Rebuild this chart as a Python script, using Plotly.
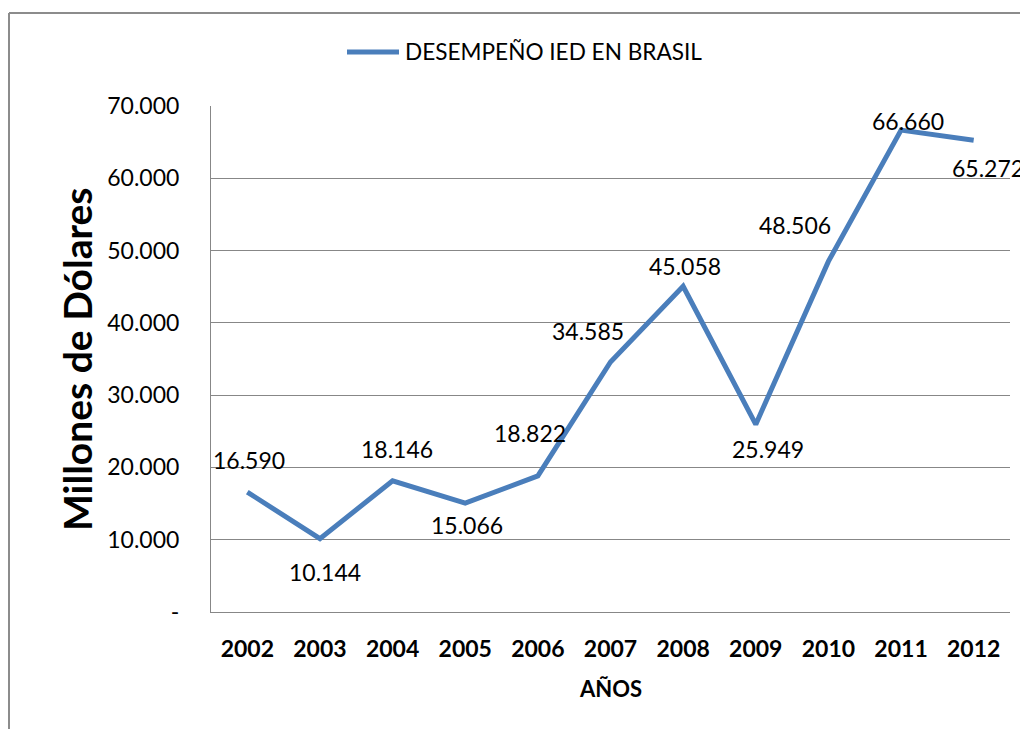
import plotly.graph_objects as go

years = ["2002", "2003", "2004", "2005", "2006", "2007", "2008", "2009", "2010", "2011", "2012"]
ied = [16590, 10144, 18146, 15066, 18822, 34585, 45058, 25949, 48506, 66660, 65272]
y_ticks = [0, 10000, 20000, 30000, 40000, 50000, 60000, 70000]
y_tick_labels = ["-", "10.000", "20.000", "30.000", "40.000", "50.000", "60.000", "70.000"]
series_name = "DESEMPEÑO IED EN BRASIL"

# label offsets (pixels) for each data label
label_dx = [2, 5, 4, 2, -8, -23, 2, 12, -33, 7, 14]
label_dy = [32, -33, 32, -22, 43, 31, 20, -25, 36, 9, -28]

FONT = "Lato, 'Open Sans', sans-serif"
BLUE = "#4A7EBB"
GRID = "#878787"

# the page body adds an 8px margin; work in screen pixels and shift
OFF = 8
W, H = 1028 - OFF, 729 - OFF
L, R, T, B = 211 - OFF, 1010 - OFF, 106 - OFF, 612 - OFF
pw, ph = R - L, B - T

def px(x):
    return (x - OFF - L) / pw

def py(y):
    return (B - (y - OFF)) / ph

fig = go.Figure()
fig.add_trace(go.Scatter(
    x=years, y=ied, mode="lines", name=series_name, showlegend=False,
    line=dict(color=BLUE, width=5),
))

def fmt(v):
    return f"{v:,}".replace(",", ".")

for i, v in enumerate(ied):
    fig.add_annotation(x=i, y=v, xref="x", yref="y", text=fmt(v), showarrow=False,
                       xanchor="center", yanchor="middle",
                       xshift=label_dx[i], yshift=label_dy[i],
                       font=dict(family=FONT, size=23, color="#000"))

# outer chart border (left and top visible)
fig.add_shape(type="line", xref="paper", yref="paper", x0=px(9), x1=px(9), y0=py(13), y1=py(760),
              line=dict(color="#8C8C8C", width=2))
fig.add_shape(type="line", xref="paper", yref="paper", x0=px(9), x1=px(1060), y0=py(13), y1=py(13),
              line=dict(color="#8C8C8C", width=2))

# legend (drawn manually to match the long line sample)
fig.add_shape(type="line", xref="paper", yref="paper", x0=px(347), x1=px(399), y0=py(52), y1=py(52),
              line=dict(color=BLUE, width=5))
fig.add_annotation(xref="paper", yref="paper", x=px(403), y=py(52), text=series_name, showarrow=False,
                   xanchor="left", yanchor="middle",
                   font=dict(family=FONT, size=22.6, color="#000"))

# axis titles
fig.add_annotation(xref="paper", yref="paper", x=px(610), y=py(688), text="AÑOS", showarrow=False,
                   xanchor="center", yanchor="middle",
                   font=dict(family=FONT, size=22, color="#000", weight="bold"))
fig.add_annotation(xref="paper", yref="paper", x=px(77), y=py(360), text="Millones de Dólares",
                   showarrow=False, textangle=-90, xanchor="center", yanchor="middle",
                   font=dict(family=FONT, size=39, color="#000", weight="bold"))

fig.update_layout(
    width=W, height=H,
    margin=dict(l=L, r=W - R, t=T, b=H - B, pad=0),
    paper_bgcolor="white", plot_bgcolor="white",
    font=dict(family=FONT, color="#000"),
    showlegend=False,
    xaxis=dict(type="category", range=[-0.5, 10.5], showgrid=False, showline=True,
               linecolor=GRID, linewidth=1, ticks="", ticklabelstandoff=16,
               tickfont=dict(family=FONT, size=23, color="#000", weight="bold"), zeroline=False),
    yaxis=dict(range=[0, 70000], tickvals=y_ticks, ticktext=y_tick_labels, showgrid=True,
               gridcolor=GRID, gridwidth=1, showline=True, linecolor=GRID, linewidth=1,
               ticks="", ticklabelstandoff=26, zeroline=False,
               tickfont=dict(family=FONT, size=23, color="#000")),
)

fig.write_html("out.html")
